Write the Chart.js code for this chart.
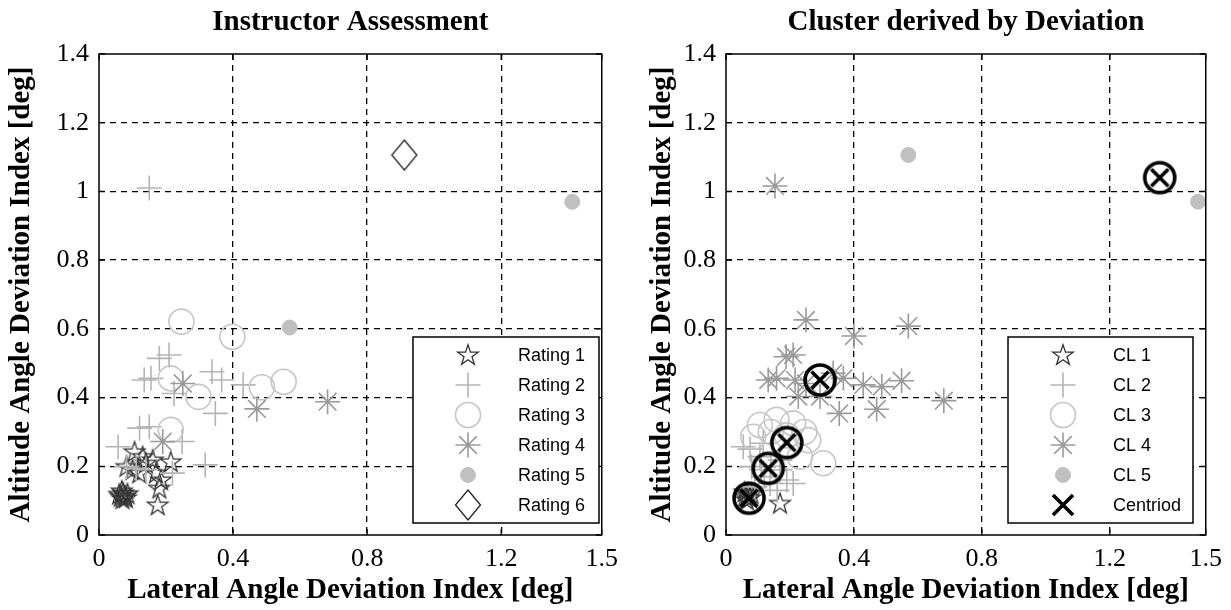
<!DOCTYPE html>
<html><head><meta charset="utf-8">
<script src="https://cdn.jsdelivr.net/npm/chart.js@4.4.1/dist/chart.umd.min.js"></script>
<style>
html,body{margin:0;padding:0;background:#fff;width:1231px;height:610px;overflow:hidden}
canvas{position:absolute;top:0}
</style></head><body>
<canvas id="c1" width="627" height="610" style="left:0"></canvas>
<canvas id="c2" width="604" height="610" style="left:627px"></canvas>
<script>
// ---------- tick labels ----------
const xTicks = [0, 0.4, 0.8, 1.2, 1.5];
const yTicks = [0, 0.2, 0.4, 0.6, 0.8, 1.0, 1.2, 1.4];

// ---------- left panel: Instructor Assessment ----------
const leftLabels = ['Rating 1', 'Rating 2', 'Rating 3', 'Rating 4', 'Rating 5', 'Rating 6'];
const rating1 = [[0.065,0.112],[0.072,0.122],[0.080,0.108],[0.085,0.120],[0.070,0.105],
  [0.060,0.118],[0.078,0.114],[0.068,0.128],
  [0.175,0.087],[0.180,0.136],[0.185,0.160],[0.214,0.213],[0.160,0.218],[0.106,0.242],
  [0.130,0.228],[0.082,0.199],[0.100,0.190],[0.120,0.180],[0.140,0.209],[0.170,0.180]];
const rating2 = [[0.150,1.010],[0.180,0.514],[0.209,0.524],[0.135,0.451],[0.155,0.456],
  [0.224,0.412],[0.337,0.475],[0.366,0.451],[0.430,0.437],[0.347,0.354],[0.317,0.204],
  [0.248,0.272],[0.057,0.257],[0.121,0.311],[0.150,0.315],[0.219,0.180],[0.082,0.199],
  [0.111,0.194],[0.140,0.190]];
const rating3 = [[0.246,0.621],[0.398,0.577],[0.214,0.456],[0.297,0.402],[0.486,0.430],
  [0.551,0.446],[0.214,0.306]];
const rating4 = [[0.250,0.441],[0.471,0.367],[0.682,0.388],[0.190,0.272]];
const rating5 = [[0.569,0.604],[1.412,0.970]];
const rating6 = [[0.911,1.106]];

// ---------- right panel: Cluster derived by Deviation ----------
const rightLabels = ['CL 1', 'CL 2', 'CL 3', 'CL 4', 'CL 5', 'Centriod'];
const cl1 = [[0.060,0.112],[0.068,0.122],[0.075,0.108],[0.080,0.120],[0.065,0.102],[0.058,0.125],[0.169,0.092]];
const cl2 = [[0.054,0.257],[0.075,0.250],[0.106,0.228],[0.169,0.189],[0.190,0.160],[0.210,0.150],
  [0.138,0.150],[0.169,0.218],[0.116,0.267],[0.080,0.199],[0.110,0.190],[0.140,0.200],
  [0.120,0.170],[0.160,0.130],[0.090,0.140]];
const cl3 = [[0.106,0.320],[0.158,0.335],[0.210,0.325],[0.257,0.276],[0.231,0.228],[0.304,0.209],
  [0.085,0.286],[0.190,0.290],[0.245,0.300],[0.140,0.300]];
const cl4 = [[0.153,1.016],[0.250,0.626],[0.400,0.579],[0.570,0.608],[0.188,0.519],[0.210,0.524],
  [0.132,0.451],[0.158,0.456],[0.216,0.451],[0.226,0.403],[0.294,0.403],[0.335,0.471],
  [0.367,0.456],[0.429,0.437],[0.487,0.432],[0.549,0.449],[0.354,0.354],[0.471,0.366],
  [0.681,0.391],[0.250,0.441]];
const cl5 = [[0.570,1.106],[1.476,0.970]];
const centroids = [[0.072,0.107],[0.132,0.194],[0.190,0.269],[0.294,0.451],[1.356,1.040]];

// ---------- marker images ----------
function mk(w, h, fn){ const c=document.createElement('canvas'); c.width=w; c.height=h; const g=c.getContext('2d'); fn(g,w,h); return c; }
const starImg = mk(26,26,(g)=>{ g.translate(13,13.5); g.beginPath();
  for(let k=0;k<10;k++){ const a=-Math.PI/2+k*Math.PI/5, r=(k%2)?4.2:10.8; const px=r*Math.cos(a), py=r*Math.sin(a); k?g.lineTo(px,py):g.moveTo(px,py); }
  g.closePath(); g.strokeStyle='#333'; g.lineWidth=1.3; g.stroke(); });
const diamondImg = mk(28,34,(g)=>{ g.beginPath(); g.moveTo(14,2); g.lineTo(26.5,17); g.lineTo(14,32); g.lineTo(1.5,17); g.closePath();
  g.strokeStyle='#222'; g.lineWidth=1.3; g.stroke(); });
const centroidImg = mk(40,40,(g)=>{ g.strokeStyle='#000'; g.lineWidth=3.6; g.beginPath(); g.arc(20,20,15,0,Math.PI*2); g.stroke();
  g.beginPath(); g.moveTo(11.5,11.5); g.lineTo(28.5,28.5); g.moveTo(28.5,11.5); g.lineTo(11.5,28.5); g.stroke(); });
const xImg = mk(28,28,(g)=>{ g.strokeStyle='#000'; g.lineWidth=3.6; g.beginPath(); g.moveTo(4,4); g.lineTo(24,24); g.moveTo(24,4); g.lineTo(4,24); g.stroke(); });

const pts = a => a.map(p => ({x:p[0], y:p[1]}));
const styles = [
  {pointStyle:starImg, pointRadius:10, pointBorderColor:'#333', pointBackgroundColor:'rgba(0,0,0,0)', pointBorderWidth:1.3},
  {pointStyle:'cross', pointRadius:12.5, pointBorderColor:'#b4b4b4', pointBackgroundColor:'rgba(0,0,0,0)', pointBorderWidth:1.6},
  {pointStyle:'circle', pointRadius:12.5, pointBorderColor:'#c6c6c6', pointBackgroundColor:'rgba(0,0,0,0)', pointBorderWidth:1.6},
  {pointStyle:'star', pointRadius:12.5, pointBorderColor:'#9a9a9a', pointBackgroundColor:'rgba(0,0,0,0)', pointBorderWidth:1.6},
  {pointStyle:'circle', pointRadius:7.5, pointBorderColor:'#c0c0c0', pointBackgroundColor:'#c0c0c0', pointBorderWidth:1},
];
function ds(label, data, st, i, extra){ return Object.assign({label, data:pts(data), showLine:false, order:20-i}, st, extra||{}); }

const leftSets = [
  ds(leftLabels[0], rating1, styles[0], 0), ds(leftLabels[1], rating2, styles[1], 1),
  ds(leftLabels[2], rating3, styles[2], 2), ds(leftLabels[3], rating4, styles[3], 3),
  ds(leftLabels[4], rating5, styles[4], 4),
  ds(leftLabels[5], rating6, {pointStyle:diamondImg, pointRadius:12, pointBorderColor:'#222', pointBackgroundColor:'rgba(0,0,0,0)', pointBorderWidth:1.3}, 5)
];
const rightSets = [
  ds(rightLabels[0], cl1, styles[0], 0), ds(rightLabels[1], cl2, styles[1], 1),
  ds(rightLabels[2], cl3, styles[2], 2), ds(rightLabels[3], cl4, styles[3], 3),
  ds(rightLabels[4], cl5, styles[4], 4),
  ds(rightLabels[5], centroids, {pointStyle:centroidImg, pointRadius:16, pointBorderColor:'#000', pointBackgroundColor:'rgba(0,0,0,0)', pointBorderWidth:3.6}, 5, {legendStyle:xImg})
];

const fmt = v => String(Math.round(v*10)/10);
const gridColor = c => (c.index === 0 || (c.scale && c.index === c.scale.ticks.length-1)) ? 'rgba(0,0,0,0)' : '#000';

function boxPlugin(title){ return {
  id:'boxPlugin',
  afterDatasetsDraw(chart){
    const {ctx, chartArea:a, scales} = chart;
    ctx.save();
    ctx.strokeStyle='#000'; ctx.lineWidth=1.5; ctx.setLineDash([]);
    ctx.strokeRect(a.left, a.top, a.right-a.left, a.bottom-a.top);
    ctx.lineWidth=1.3; ctx.beginPath();
    scales.x.ticks.forEach(t=>{ const px=scales.x.getPixelForValue(t.value);
      ctx.moveTo(px,a.bottom); ctx.lineTo(px,a.bottom-6); ctx.moveTo(px,a.top); ctx.lineTo(px,a.top+6); });
    scales.y.ticks.forEach(t=>{ const py=scales.y.getPixelForValue(t.value);
      ctx.moveTo(a.left,py); ctx.lineTo(a.left+6,py); ctx.moveTo(a.right,py); ctx.lineTo(a.right-6,py); });
    ctx.stroke();
    ctx.fillStyle='#000'; ctx.font='bold 29px "Liberation Serif"'; ctx.textAlign='center'; ctx.textBaseline='middle';
    ctx.fillText(title, (a.left+a.right)/2, 23);
    ctx.restore();
  }
};}

function legendPlugin(L){ return {
  id:'legendPlugin',
  afterDraw(chart){
    const ctx=chart.ctx; ctx.save();
    ctx.fillStyle='#fff'; ctx.fillRect(L.x, L.y, L.w, L.h);
    ctx.strokeStyle='#000'; ctx.lineWidth=1.5; ctx.strokeRect(L.x, L.y, L.w, L.h);
    chart.data.datasets.forEach((d,i)=>{
      const y = L.rowY + i*L.dy;
      ctx.strokeStyle=d.pointBorderColor; ctx.fillStyle=d.pointBackgroundColor; ctx.lineWidth=d.pointBorderWidth;
      Chart.helpers.drawPoint(ctx, {pointStyle:d.legendStyle||d.pointStyle, rotation:0, radius:d.pointRadius, borderWidth:d.pointBorderWidth}, L.mx, y);
      ctx.fillStyle='#000'; ctx.font='18px "Liberation Sans"'; ctx.textAlign='left'; ctx.textBaseline='middle';
      ctx.fillText(d.label, L.tx, y+1);
    });
    ctx.restore();
  }
};}

function makeChart(id, sets, title, padRight, yTitlePad, L){
  return new Chart(document.getElementById(id), {
    type:'scatter',
    data:{datasets:sets},
    options:{
      responsive:false, animation:false, devicePixelRatio:1,
      layout:{padding:{top:54, right:padRight, left:0, bottom:0}},
      plugins:{legend:{display:false}, tooltip:{enabled:false}, title:{display:false}},
      scales:{
        x:{type:'linear', min:0, max:1.5,
          afterBuildTicks:s=>{ s.ticks = xTicks.map(v=>({value:v})); },
          afterFit:s=>{ s.height = 75; },
          grid:{color:gridColor, lineWidth:1.3, drawTicks:false},
          border:{display:false, dash:[6,5]},
          ticks:{font:{family:'Liberation Serif', size:26}, color:'#000', padding:9, maxRotation:0, autoSkip:false, callback:v=>fmt(v)},
          title:{display:true, text:'Lateral Angle Deviation Index [deg]', font:{family:'Liberation Serif', size:29, weight:'bold'}, color:'#000', padding:{top:0, bottom:2}}
        },
        y:{type:'linear', min:0, max:1.4,
          afterBuildTicks:s=>{ s.ticks = yTicks.map(v=>({value:v})); },
          afterFit:s=>{ s.width = 99; },
          grid:{color:gridColor, lineWidth:1.3, drawTicks:false},
          border:{display:false, dash:[6,5]},
          ticks:{font:{family:'Liberation Serif', size:26}, color:'#000', padding:10, autoSkip:false, callback:v=>fmt(v)},
          title:{display:true, text:'Altitude Angle Deviation Index [deg]', font:{family:'Liberation Serif', size:29, weight:'bold'}, color:'#000', padding:{top:yTitlePad, bottom:0}}
        }
      }
    },
    plugins:[boxPlugin(title), legendPlugin(L)]
  });
}

makeChart('c1', leftSets, 'Instructor Assessment', 19, 4, {x:413, y:337, w:186, h:186, rowY:355, dy:30, mx:468, tx:518});
makeChart('c2', rightSets, 'Cluster derived by Deviation', 25, 18, {x:381, y:337, w:185, h:186, rowY:355, dy:30, mx:436, tx:486});
</script>
</body></html>
